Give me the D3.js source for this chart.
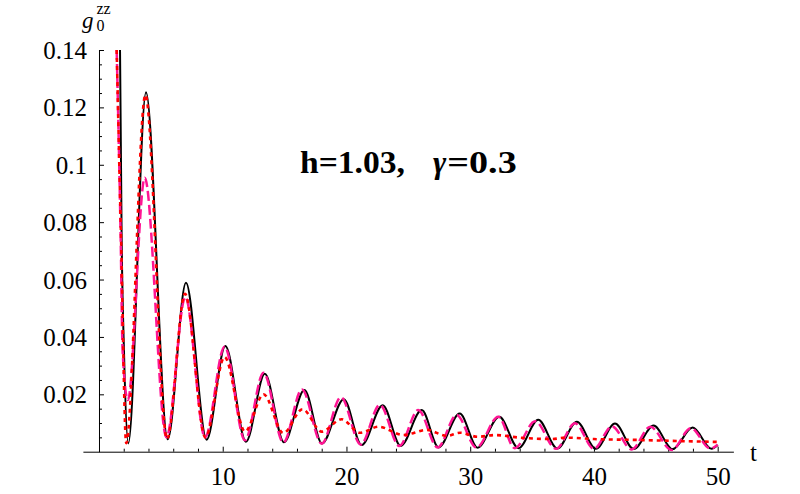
<!DOCTYPE html>
<html><head><meta charset="utf-8">
<script src="https://cdn.jsdelivr.net/npm/d3@7"></script>
<style>body{margin:0;background:#fff} text{font-family:'Liberation Serif','Times New Roman',serif;}</style>
</head><body><svg id="c" width="800" height="494"></svg>
<script>
// ---- data ----
const blackT = [1.70,1.83,2.02,2.37,3.80,5.55,7.03,8.70,10.21,11.88,13.40,14.95,16.60,18.02,19.78,21.23,22.93,24.38,26.08,27.45,29.15,30.60,32.35,33.90,35.50,37.04,38.62,40.16,41.70,43.22,44.82,46.36,47.98,49.50,50.00];
const blackV = [0.140,0.075,0.035,0.0029,0.1253,0.0043,0.0589,0.0042,0.0368,0.0035,0.0272,0.0033,0.0215,0.0029,0.0183,0.0023,0.0162,0.0020,0.0145,0.0015,0.0133,0.0014,0.0122,0.0012,0.0111,0.0011,0.0104,0.0010,0.0098,0.0009,0.0091,0.0009,0.0084,0.0010,0.0023];

const magentaT = [1.43,1.75,1.91,2.33,3.70,5.45,6.98,8.57,10.15,11.80,13.30,14.90,16.40,18.00,19.55,21.15,22.70,24.27,25.80,27.37,28.90,30.50,32.27,33.60,35.25,36.93,38.47,40.00,41.45,43.05,44.55,46.28,47.84,49.40,50.00];
const magentaV = [0.140,0.075,0.035,0.018,0.0955,0.0050,0.0539,0.0050,0.0366,0.0040,0.0275,0.0032,0.0217,0.0028,0.0190,0.0025,0.0163,0.0020,0.0145,0.0015,0.0128,0.0014,0.0122,0.0012,0.0106,0.0010,0.0099,0.0010,0.0088,0.0008,0.0087,0.0006,0.0082,0.0011,0.0024];

const redT = [1.43,1.78,2.20,3.75,5.50,6.95,8.60,10.15,11.80,13.30,14.90,16.45,18.00,19.60,21.10,22.60,24.60,26.50,28.10,29.20,30.60,32.00,34.00,36.60,37.70,40.00,43.50,47.00,50.00];
const redV = [0.140,0.075,0.003,0.1243,0.0045,0.0550,0.0050,0.0330,0.0070,0.0200,0.0065,0.0148,0.0070,0.0113,0.0066,0.0087,0.0058,0.0076,0.0055,0.0066,0.0052,0.0058,0.0049,0.0044,0.0049,0.0044,0.0041,0.0037,0.0034];

const xMajorTicks = [10,20,30,40,50];
const xTickLabels = ["10","20","30","40","50"];
const yMajorTicks = [0.02,0.04,0.06,0.08,0.1,0.12,0.14];
const yTickLabels = ["0.02","0.04","0.06","0.08","0.1","0.12","0.14"];

// ---- drawing ----
const svg = d3.select("#c");
svg.append("rect").attr("width",800).attr("height",494).attr("fill","#fff");

const x = d3.scaleLinear().domain([-1.3, 51.27]).range([82.9, 733.4]);
const y = d3.scaleLinear().domain([0, 0.14]).range([451.7, 50]);
const font = "'Liberation Serif','Times New Roman',serif";

svg.append("clipPath").attr("id","clip").append("rect")
  .attr("x", x(0)).attr("y", y(0.14)).attr("width", x(51.27)-x(0)).attr("height", y(0)-y(0.14));

// x axis
const xMinor = d3.range(2, 51, 2).filter(v => v % 10 !== 0);
const gx = svg.append("g").attr("transform", `translate(0,${y(0)})`);
gx.call(d3.axisBottom(x).tickValues(xMajorTicks).tickFormat((d,i)=>xTickLabels[i]).tickSizeInner(-5).tickSizeOuter(0));
gx.append("g").call(d3.axisBottom(x).tickValues(xMinor).tickFormat("").tickSizeInner(-3).tickSizeOuter(0))
  .select(".domain").remove();
gx.attr("font-family", font).attr("font-size", 25);
gx.selectAll("text").attr("y", 33).attr("dy", 0).attr("font-family", font).attr("font-size", 25).attr("fill","#000");

// y axis
const yMinor = d3.range(1, 29).map(i => i*0.005).filter((v,i) => (i+1) % 4 !== 0);
const gy = svg.append("g").attr("transform", `translate(${x(0)},0)`);
gy.call(d3.axisLeft(y).tickValues(yMajorTicks).tickFormat((d,i)=>yTickLabels[i]).tickSizeInner(-5).tickSizeOuter(0).tickPadding(12));
gy.append("g").call(d3.axisLeft(y).tickValues(yMinor).tickFormat("").tickSizeInner(-3).tickSizeOuter(0))
  .select(".domain").remove();
gy.attr("font-family", font).attr("font-size", 25);
gy.selectAll("text").attr("dy","0.34em").attr("font-family", font).attr("font-size", 25).attr("fill","#000");

svg.selectAll(".domain, .tick line").attr("stroke","#000").attr("stroke-width",1);

// curves
const line = d3.line().x(d => x(d[0])).y(d => y(d[1])).curve(d3.curveMonotoneX);
const plot = svg.append("g").attr("clip-path","url(#clip)");
plot.append("path").attr("d", line(blackT.map((t,i)=>[t, blackV[i]])))
  .attr("fill","none").attr("stroke","#000").attr("stroke-width",2);
plot.append("path").attr("d", line(magentaT.map((t,i)=>[t, magentaV[i]])))
  .attr("fill","none").attr("stroke","#ff1493").attr("stroke-width",2.5).attr("stroke-dasharray","10,4");
plot.append("path").attr("d", line(redT.map((t,i)=>[t, redV[i]])))
  .attr("fill","none").attr("stroke","#ff0000").attr("stroke-width",2.6).attr("stroke-dasharray","4,4");

// labels
svg.append("text").attr("x",750).attr("y",461).attr("font-family",font).attr("font-size",25).text("t");
svg.append("text").attr("x",82).attr("y",28).attr("font-family",font).attr("font-size",23).attr("font-style","italic").text("g");
svg.append("text").attr("x",96.5).attr("y",13.5).attr("font-family",font).attr("font-size",16).text("zz");
svg.append("text").attr("x",96.5).attr("y",30.5).attr("font-family",font).attr("font-size",16).text("0");

svg.append("text").attr("x",300).attr("y",173.3).attr("font-family",font).attr("font-size",32).attr("font-weight","bold")
  .attr("textLength",105).attr("lengthAdjust","spacingAndGlyphs").text("h=1.03,");
const gam = svg.append("text").attr("x",433).attr("y",173.3).attr("font-family",font).attr("font-size",32).attr("font-weight","bold")
  .attr("font-style","italic").text("γ");
const gw = gam.node().getComputedTextLength();
const eqX = 433 + gw + 1;
svg.append("text").attr("x",eqX).attr("y",173.3).attr("font-family",font).attr("font-size",32).attr("font-weight","bold")
  .attr("textLength",516.7-eqX).attr("lengthAdjust","spacingAndGlyphs").text("=0.3");
</script>
</body></html>
